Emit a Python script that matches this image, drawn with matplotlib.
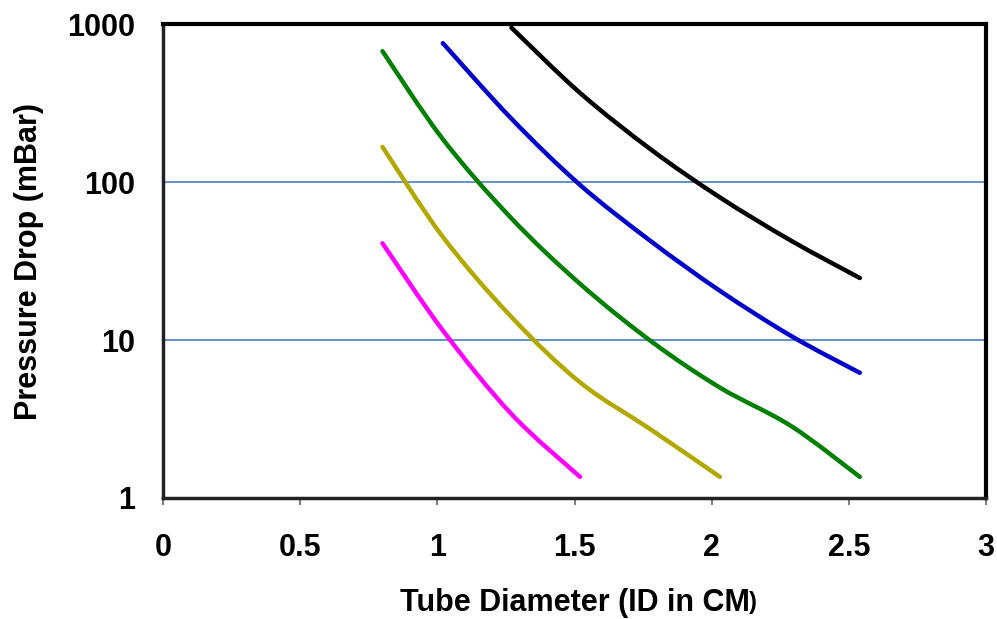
import numpy as np
import matplotlib
matplotlib.use("Agg")
import matplotlib.pyplot as plt
from matplotlib.path import Path
from matplotlib.patches import PathPatch
from matplotlib.ticker import FixedLocator, FixedFormatter, NullLocator

plt.rcParams['font.family'] = ['Liberation Sans', 'DejaVu Sans']
plt.rcParams['font.weight'] = 'bold'

# Tube inner diameters (cm)
diameters = [0.8, 1.02, 1.27, 1.52, 1.78, 2.03, 2.29, 2.54]

# Pressure drop (mBar) for each flow curve
drop_magenta = [41, 11.5, 3.4, 1.36]
drop_yellow = [167, 45, 14, 5.4, 2.7, 1.36]
drop_green = [674, 187, 59, 22.7, 9.8, 5.0, 2.85, 1.36]
drop_blue = [758, 252, 96, 42, 20.5, 10.6, 6.2]
drop_black = [950, 367, 160, 80, 42.5, 24.7]

x_ticks = [0, 0.5, 1, 1.5, 2, 2.5, 3]
x_tick_labels = ["0", "0.5", "1", "1.5", "2", "2.5", "3"]
y_ticks = [1, 10, 100, 1000]
y_tick_labels = ["1", "10", "100", "1000"]


def smooth_path(xs, ys):
    # Excel-style smoothed line: cubic Bezier through points, built in (x, log y)
    x = np.asarray(xs, float)
    ly = np.log10(np.asarray(ys, float))
    pts = np.column_stack([x, ly])
    verts = [pts[0]]
    codes = [Path.MOVETO]
    n = len(pts)
    for i in range(n - 1):
        p0 = pts[max(i - 1, 0)]
        p1 = pts[i]
        p2 = pts[i + 1]
        p3 = pts[min(i + 2, n - 1)]
        c1 = p1 + (p2 - p0) / 6.0
        c2 = p2 - (p3 - p1) / 6.0
        verts += [c1, c2, p2]
        codes += [Path.CURVE4] * 3
    verts = np.array(verts)
    verts[:, 1] = 10 ** verts[:, 1]
    return Path(verts, codes)


fig = plt.figure(figsize=(9.97, 6.19), dpi=100)
ax = fig.add_axes([0.1635, 0.1955, 0.8255, 0.7655])
ax.set_yscale('log')
ax.set_xlim(0, 3)
ax.set_ylim(1, 1000)

series = [
    (diameters[:4], drop_magenta, '#FF00FF'),
    (diameters[:6], drop_yellow, '#B3A800'),
    (diameters, drop_green, '#008000'),
    (diameters[1:], drop_blue, '#0000CC'),
    (diameters[2:], drop_black, '#000000'),
]
for xs, ys, col in series:
    patch = PathPatch(smooth_path(xs, ys), facecolor='none', edgecolor=col,
                      lw=3.2, capstyle='round', joinstyle='round', zorder=3)
    ax.add_patch(patch)

# horizontal gridlines
for v in [10, 100]:
    ax.axhline(v, color='#4A7EBB', lw=1.2, zorder=1)

ax.xaxis.set_major_locator(FixedLocator(x_ticks))
ax.xaxis.set_major_formatter(FixedFormatter(x_tick_labels))
ax.yaxis.set_major_locator(FixedLocator(y_ticks))
ax.yaxis.set_major_formatter(FixedFormatter(y_tick_labels))
ax.yaxis.set_minor_locator(NullLocator())

ax.tick_params(axis='x', length=5, width=1.5, color='#808080', pad=20,
               labelsize=22)
ax.tick_params(axis='y', length=0, pad=20, labelsize=22)
for lab in ax.get_xticklabels() + ax.get_yticklabels():
    lab.set_fontweight('bold')

for side in ['top', 'right']:
    ax.spines[side].set_linewidth(3)
    ax.spines[side].set_color('black')
for side in ['left', 'bottom']:
    ax.spines[side].set_linewidth(2.5)
    ax.spines[side].set_color('#222222')

ax.set_ylabel("Pressure Drop (mBar)", fontsize=22, fontweight='bold', labelpad=17)
xl = ax.set_xlabel("Tube Diameter (ID in CM", fontsize=22, fontweight='bold', labelpad=18)
ax.annotate(")", xy=(1, 0.12), xycoords=xl, fontsize=17, fontweight='bold',
            ha='left', va='bottom', annotation_clip=False)

fig.savefig("out.png", dpi=100)
